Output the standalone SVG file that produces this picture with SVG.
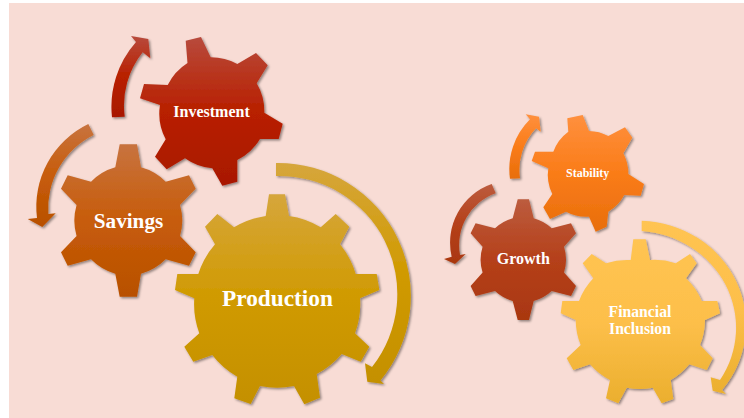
<svg xmlns="http://www.w3.org/2000/svg" width="744" height="418" viewBox="0 0 744 418">
<style>
.l{font-family:"Liberation Serif","Times New Roman",serif;font-weight:bold;fill:#fff;text-anchor:middle}
.s{filter:url(#sh)}
</style>
<defs>
<filter id="sh" x="-10%" y="-10%" width="125%" height="125%"><feDropShadow dx="1.5" dy="1.5" stdDeviation="1.1" flood-color="#000" flood-opacity=".42"/></filter>
<linearGradient id="gi" x1="0" y1="0" x2="0" y2="1"><stop offset="0" stop-color="#b84a3c"/><stop offset=".5" stop-color="#b82000"/><stop offset="1" stop-color="#a81800"/></linearGradient>
<linearGradient id="gs" x1="0" y1="0" x2="0" y2="1"><stop offset="0" stop-color="#c8733f"/><stop offset=".5" stop-color="#c75c0a"/><stop offset="1" stop-color="#b85000"/></linearGradient>
<linearGradient id="gp" x1="0" y1="0" x2="0" y2="1"><stop offset="0" stop-color="#d6a63c"/><stop offset=".5" stop-color="#d09a00"/><stop offset="1" stop-color="#c49000"/></linearGradient>
<linearGradient id="gt" x1="0" y1="0" x2="0" y2="1"><stop offset="0" stop-color="#ff903e"/><stop offset=".5" stop-color="#fa7c18"/><stop offset="1" stop-color="#e86e0c"/></linearGradient>
<linearGradient id="gg" x1="0" y1="0" x2="0" y2="1"><stop offset="0" stop-color="#bc5c3e"/><stop offset=".5" stop-color="#b5401a"/><stop offset="1" stop-color="#a93710"/></linearGradient>
<linearGradient id="gf" x1="0" y1="0" x2="0" y2="1"><stop offset="0" stop-color="#ffc452"/><stop offset=".5" stop-color="#fdbf4a"/><stop offset="1" stop-color="#ebaf2e"/></linearGradient>
</defs>
<rect width="744" height="418" fill="#fff"/>
<rect x="9" y="3" width="735" height="415" fill="#f8dcd5"/>
<g id="connectors">
<path class="s" fill="url(#gi)" d="M112,117.3A98,98 0 0 1 136,42L131,36L148.3,39L150.3,58.3L142.7,52.3A85,85 0 0 0 124.7,116.7Z"/>
<path class="s" fill="url(#gs)" d="M88.3,124A92,92 0 0 0 37,218L27.7,219L42.3,227L55.7,213.3L48.3,214A82,82 0 0 1 93.7,135Z"/>
<path class="s" fill="url(#gp)" d="M276,163A133,133 0 0 1 380.5,380.5L384,384L367.3,381.7L365,363.3L372,367A118,118 0 0 0 276,176Z"/>
<path class="s" fill="url(#gt)" d="M510,178.7A70,70 0 0 1 530,119.3L525.7,114.3L539,116.7L540.7,131.7L536,128.3A60,60 0 0 0 520,178.3Z"/>
<path class="s" fill="url(#gg)" d="M491.7,184A62,62 0 0 0 451.7,256.7L444,259L455,264L465.7,254L460,255A55,55 0 0 1 495.7,193.3Z"/>
<path class="s" fill="url(#gf)" d="M641.7,220.7A108,104 0 0 1 722,390L726,394L712.7,390.7L710.7,377.3L720,380A102,97 0 0 0 641.7,231Z"/>
</g>
<g id="investment">
<path class="s" fill="url(#gi)" d="M187.5,63L185.7,40.7L201,37L210.7,57.3A55,55 0 0 1 237.3,64L256,53L267.7,65.3L256.7,83.3A55,55 0 0 1 264.3,112.7L282.7,123.7L278.7,139L260,139A55,55 0 0 1 237.3,160L237.3,181.7L222.3,185.7L212.3,168.3A55,55 0 0 1 185,158.3L166.7,169.3L155,156.7L165.7,139.3A55,55 0 0 1 160,105L140,98.3L144,84L167.7,85A55,55 0 0 1 187.5,63Z"/>
<text class="l" x="211.5" y="116.5" font-size="16">Investment</text>
</g>
<g id="savings">
<path class="s" fill="url(#gs)" d="M115.3,167.3L119.7,144.3L137,144.3L141,167.3A55,55 0 0 1 165.7,181.7L189,175.3L195.7,188.7L180,205A55,55 0 0 1 180,236L195.7,252.3L189,265.7L165.7,259.3A55,55 0 0 1 141,273.7L137,296.7L119.7,296.7L115.3,273.7A55,55 0 0 1 91,259.3L67.7,265.7L61,252.3L76.6,236A55,55 0 0 1 76.6,205L61,188.7L67.7,175.3L91,181.7A55,55 0 0 1 115.3,167.3Z"/>
<text class="l" x="128.5" y="227.5" font-size="21.2">Savings</text>
</g>
<g id="production">
<path class="s" fill="url(#gp)" d="M265.7,216L269,194.3L285,194.3L289,216A84,84 0 0 1 320.7,227.3L335.7,214L349.3,226.7L340,244.3A84,84 0 0 1 355.7,274L376.7,274L379.3,290L360,298.3A84,84 0 0 1 355,333.3L369.3,346.7L360.7,361.7L341.7,354A84,84 0 0 1 316.7,374L320,397.7L304.3,404.3L294,386A84,84 0 0 1 260,386L250.7,404L234.3,398.3L237.3,376.7A84,84 0 0 1 212.3,355L193.3,361.7L184.3,346.7L199.3,333.3A84,84 0 0 1 194.3,298.3L175,290L177.3,274L198.3,274A84,84 0 0 1 215,244.3L205,226.7L217.3,214L234,227.3A84,84 0 0 1 265.7,216Z"/>
<text class="l" x="277.5" y="306" font-size="23.3">Production</text>
</g>
<g id="stability">
<path class="s" fill="url(#gt)" d="M568.3,131.7L567.3,118.3L582.7,115L589,131A43,43 0 0 1 608.3,136L625,127.3L632.3,137.7L623.3,153.3A43,43 0 0 1 628.3,174L644,184L640.7,195.7L624.3,195A43,43 0 0 1 608.3,211.7L606.7,226.7L595.7,231.7L589,216.7A43,43 0 0 1 566,211.7L550,219L543.3,207.3L552.3,194A43,43 0 0 1 548.3,168.3L531.7,161L535,151.7L553.3,151.7A43,43 0 0 1 568.3,131.7Z"/>
<text class="l" x="587.7" y="177" font-size="12">Stability</text>
</g>
<g id="growth">
<path class="s" fill="url(#gg)" d="M512.7,218.3L517.7,199.3L529,199.3L533.7,218.3A43,43 0 0 1 551.7,228.3L571,223.3L576,233.3L564,246.7A43,43 0 0 1 564,272.6L576,286L571,296L551.7,291A43,43 0 0 1 533.7,301L529,320L517.7,320L512.7,301A43,43 0 0 1 495,291L475.6,296L470.6,286L482.6,272.6A43,43 0 0 1 482.6,246.7L470.6,233.3L475.6,223.3L495,228.3A43,43 0 0 1 512.7,218.3Z"/>
<text class="l" x="523.3" y="264" font-size="16">Growth</text>
</g>
<g id="financial-inclusion">
<path class="s" fill="url(#gf)" d="M630.7,260L633.3,239.3L645.7,239.3L650,260A66,66 0 0 1 675.7,263.3L690,254L696.7,263.3L686,278.3A66,66 0 0 1 701.7,301L717.3,301L720,313.3L705,320A66,66 0 0 1 700,345L712.7,358.3L706.7,370L689.3,364.3A66,66 0 0 1 670.7,380L673.3,399L661.7,403.3L652.7,387.7A66,66 0 0 1 626.7,387.7L618.3,403.3L606,398.3L610,380A66,66 0 0 1 590,364.3L573.3,370L566.7,358.3L580.7,345A66,66 0 0 1 575.7,320L560.7,313.3L562.3,301L579,301A66,66 0 0 1 593.3,278.3L582.7,263.3L591.7,254L606,263.3A66,66 0 0 1 630.7,260Z"/>
<text class="l" x="640" y="317" font-size="15.7">Financial</text>
<text class="l" x="640" y="334" font-size="15.7">Inclusion</text>
</g>
</svg>
